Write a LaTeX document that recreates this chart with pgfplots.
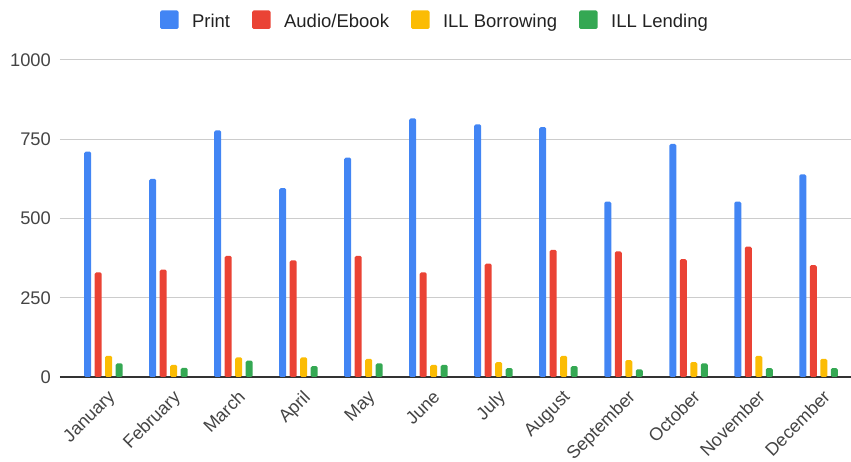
\documentclass[border=0pt]{standalone}
\usepackage{fontspec}
\setmainfont{Liberation Sans}
\usepackage{pgfplots}
\pgfplotsset{compat=1.18}
\definecolor{cPrint}{HTML}{4285F4}
\definecolor{cAudio}{HTML}{EA4335}
\definecolor{cBorrow}{HTML}{FBBC04}
\definecolor{cLend}{HTML}{34A853}
\definecolor{labelgray}{HTML}{444444}
\definecolor{legendgray}{HTML}{222222}
\definecolor{gridgray}{HTML}{CCCCCC}
\definecolor{basegray}{HTML}{333333}
\begin{document}
\begin{tikzpicture}
\begin{axis}[
  scale only axis, width=791pt, height=317pt,
  ybar=3.5pt, bar width=7pt,
  xmin=-0.669, xmax=11.5, ymin=0, ymax=1000,
  xtick={0,...,11},
  xticklabels={January,February,March,April,May,June,July,August,September,October,November,December},
  x tick label style={xshift=3.5pt, yshift=-12pt, rotate=45, anchor=north east, inner sep=0pt, font=\fontsize{18}{18}\selectfont, text=labelgray},
  ytick={0,250,500,750,1000},
  yticklabel style={inner sep=0pt, xshift=-9pt, font=\fontsize{18.3}{18}\selectfont, text=labelgray},
  /pgf/number format/assume math mode=true,
  /pgf/number format/1000 sep={},
  ymajorgrids, grid style={gridgray, line width=1pt},
  axis x line*=bottom, axis y line*=left,
  x axis line style={basegray, line width=1.3pt, -},
  y axis line style={draw=none},
  major tick length=0pt, tick style={draw=none},
  clip=false,
  legend style={at={(0.4728,1.127)}, anchor=center, draw=none, fill=none,
    legend columns=-1, font=\fontsize{18.5}{18.5}\selectfont, text=legendgray,
    /tikz/every even column/.append style={column sep=22pt},
    nodes={inner sep=0pt, text depth=0pt}},
  legend image code/.code={\fill[#1, draw=none, rounded corners=1.5pt] (0pt,-8.5pt) rectangle (18.5pt,10pt); \path (32pt,0pt);},
  every axis plot/.append style={draw=none, rounded corners=1.5pt},
]
\addplot[fill=cPrint] coordinates {(0,711) (1,625) (2,778) (3,596) (4,692) (5,816) (6,797) (7,788) (8,553) (9,735) (10,553) (11,639)};
\addplot[fill=cAudio] coordinates {(0,330) (1,339) (2,382) (3,368) (4,382) (5,330) (6,358) (7,401) (8,396) (9,372) (10,411) (11,353)};
\addplot[fill=cBorrow] coordinates {(0,67) (1,38) (2,62) (3,62) (4,57) (5,38) (6,47) (7,67) (8,53) (9,47) (10,67) (11,57)};
\addplot[fill=cLend] coordinates {(0,43) (1,29) (2,52) (3,34) (4,43) (5,38) (6,28) (7,34) (8,24) (9,43) (10,28) (11,28)};
\legend{Print, Audio/Ebook, ILL Borrowing, ILL Lending}
\end{axis}
\pgfresetboundingbox
\path ([shift={(-60pt,-85pt)}]current axis.south west) rectangle ([shift={(0pt,60pt)}]current axis.north east);
\end{tikzpicture}
\end{document}
